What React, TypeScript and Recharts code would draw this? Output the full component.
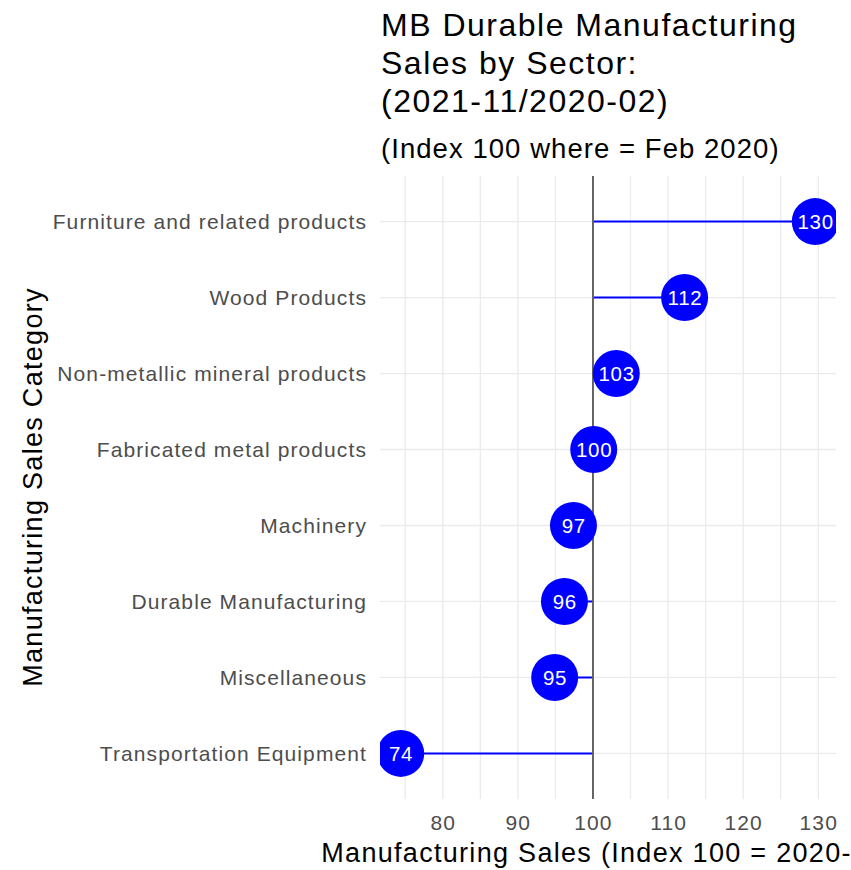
import {
  ComposedChart,
  Bar,
  Line,
  XAxis,
  YAxis,
  CartesianGrid,
  ReferenceLine,
} from "recharts";

const categories = [
  "Furniture and related products",
  "Wood Products",
  "Non-metallic mineral products",
  "Fabricated metal products",
  "Machinery",
  "Durable Manufacturing",
  "Miscellaneous",
  "Transportation Equipment",
];
const salesIndex = [129.6, 112.2, 103.1, 100.1, 97.4, 96.2, 94.9, 74.4];
const baseIndex = 100;
const xTicks = [75, 80, 85, 90, 95, 100, 105, 110, 115, 120, 125, 130];

const titleLines = ["MB Durable Manufacturing", "Sales by Sector:", "(2021-11/2020-02)"];
const subtitle = "(Index 100 where = Feb 2020)";
const xTitle = "Manufacturing Sales (Index 100 = 2020-02)";
const yTitle = "Manufacturing Sales Category";

const FONT = "'Liberation Sans', Arial, sans-serif";
const BLUE = "#0000FF";

const data = categories.map((name, i) => ({
  name,
  value: salesIndex[i],
  stem: [baseIndex, salesIndex[i]],
}));

// ggplot style 5% expansion around the data range
const lo = Math.min(...salesIndex);
const hi = Math.max(...salesIndex);
const pad = (hi - lo) * 0.05;
const xDomain = [lo - pad, hi + pad];

const YTick = ({ x, y, payload }: any) => (
  <text
    x={x}
    y={y}
    dy="0.36em"
    textAnchor="end"
    fill="#4D4D4D"
    fontSize={21}
    letterSpacing={1.1}
    fontFamily={FONT}
  >
    {payload.value}
  </text>
);

const XTick = ({ x, y, payload }: any) => {
  if (payload.value % 10 !== 0) return <g />;
  return (
    <text
      x={x + 0.5}
      y={y}
      dy="0.72em"
      textAnchor="middle"
      fill="#4D4D4D"
      fontSize={21}
      letterSpacing={1.1}
      fontFamily={FONT}
    >
      {payload.value}
    </text>
  );
};

const Lollipop = ({ cx, cy, payload, index }: any) => (
  <g key={`dot-${index}`}>
    <circle cx={cx} cy={cy} r={23.5} fill={BLUE} />
    <text
      x={cx + 0.4}
      y={cy}
      dy="0.36em"
      textAnchor="middle"
      fill="#FFFFFF"
      fontSize={20.5}
      letterSpacing={0.7}
      fontFamily={FONT}
    >
      {Math.round(payload.value)}
    </text>
  </g>
);

export default function App() {
  return (
    <div
      style={{
        position: "absolute",
        left: 0,
        top: 0,
        width: 851,
        height: 870,
        overflow: "hidden",
        background: "#fff",
      }}
    >
      <ComposedChart
        width={851}
        height={870}
        data={data}
        layout="vertical"
        margin={{ top: 176, right: 15, bottom: 11, left: 10 }}
      >
        <CartesianGrid stroke="#EBEBEB" strokeWidth={1.3} syncWithTicks />
        <XAxis
          type="number"
          domain={xDomain}
          ticks={xTicks}
          allowDataOverflow
          axisLine={false}
          tickLine={false}
          tickSize={0}
          tickMargin={16}
          height={60}
          tick={<XTick />}
        />
        <YAxis
          type="category"
          dataKey="name"
          width={370}
          axisLine={false}
          tickLine={false}
          tickSize={0}
          tickMargin={13}
          interval={0}
          padding={{ top: 7.6, bottom: 7.6 }}
          tick={<YTick />}
        />
        <Bar dataKey="stem" barSize={2} fill={BLUE} isAnimationActive={false} />
        <Line
          dataKey="value"
          stroke="none"
          dot={<Lollipop />}
          activeDot={false}
          isAnimationActive={false}
        />
        <ReferenceLine x={baseIndex} stroke="#5F5F5F" strokeWidth={1.9} />

        {titleLines.map((line, i) => (
          <text
            key={line}
            x={381}
            y={36 + i * 37.8}
            fontSize={32}
            letterSpacing={1.5}
            fill="#000"
            fontFamily={FONT}
          >
            {line}
          </text>
        ))}
        <text x={381} y={158} fontSize={27.5} letterSpacing={1.05} fill="#000" fontFamily={FONT}>
          {subtitle}
        </text>
        <text
          x={608}
          y={862}
          textAnchor="middle"
          fontSize={27}
          letterSpacing={1.3}
          fill="#000"
          fontFamily={FONT}
        >
          {xTitle}
        </text>
        <text
          transform="rotate(-90)"
          x={-487}
          y={42}
          textAnchor="middle"
          fontSize={27}
          letterSpacing={1.3}
          fill="#000"
          fontFamily={FONT}
        >
          {yTitle}
        </text>
      </ComposedChart>
    </div>
  );
}
